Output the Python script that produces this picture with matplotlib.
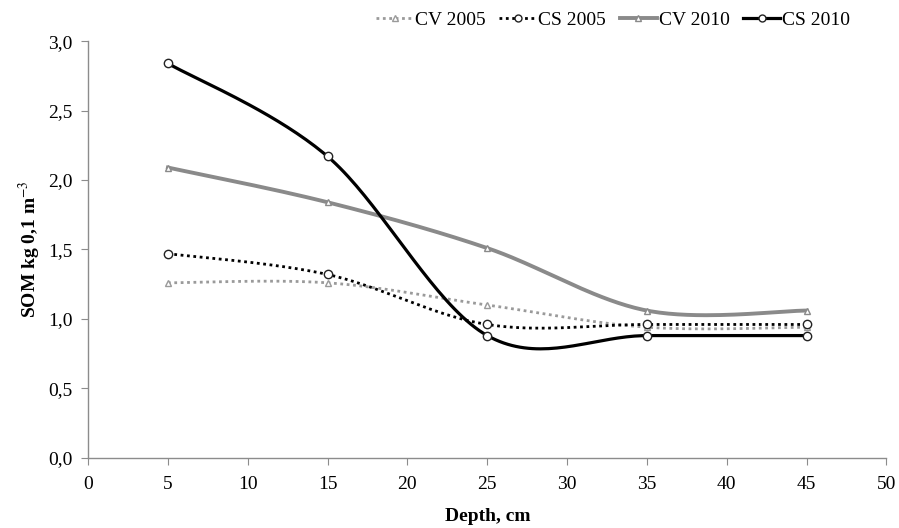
"""
SOM by depth - CV/CS 2005 and 2010, smoothed lines like the Excel original.
"""

import numpy as np
import matplotlib
matplotlib.use("Agg")
import matplotlib.pyplot as plt
from matplotlib.ticker import FuncFormatter, MultipleLocator

# ── Data ──────────────────────────────────────────────────────
depth   = [5, 15, 25, 35, 45]
cv_2005 = [1.26, 1.26, 1.10, 0.94, 0.94]
cs_2005 = [1.47, 1.32, 0.96, 0.96, 0.96]
cv_2010 = [2.09, 1.84, 1.51, 1.06, 1.06]
cs_2010 = [2.84, 2.17, 0.88, 0.88, 0.88]

plt.rcParams["font.family"] = ["Liberation Serif", "DejaVu Serif"]
plt.rcParams["mathtext.fontset"] = "stix"

FS = 14


def smooth_path(x, y, n=40):
    """Cardinal-spline curve through the points (Excel 'smoothed line' style)."""
    px = [x[0]] + list(x) + [x[-1]]
    py = [y[0]] + list(y) + [y[-1]]
    xs, ys = [], []
    t = np.linspace(0, 1, n)
    for i in range(1, len(px) - 2):
        p0 = np.array([px[i], py[i]])
        p3 = np.array([px[i + 1], py[i + 1]])
        p1 = p0 + (np.array([px[i + 1], py[i + 1]]) - np.array([px[i - 1], py[i - 1]])) / 6
        p2 = p3 - (np.array([px[i + 2], py[i + 2]]) - np.array([px[i], py[i]])) / 6
        b = ((1 - t) ** 3)[:, None] * p0 + (3 * (1 - t) ** 2 * t)[:, None] * p1 \
            + (3 * (1 - t) * t ** 2)[:, None] * p2 + (t ** 3)[:, None] * p3
        xs.extend(b[:, 0])
        ys.extend(b[:, 1])
    return xs, ys


fig = plt.figure(figsize=(8.99, 5.28), dpi=100)
ax = fig.add_axes([0.098, 0.133, 0.888, 0.789])

series = [
    ("CV 2005", cv_2005, dict(color="#9a9a9a", ls=(0, (1, 1.3)), lw=2.0, marker="^", ms=5)),
    ("CS 2005", cs_2005, dict(color="#000000", ls=(0, (1, 1.3)), lw=2.0, marker="o", ms=6)),
    ("CV 2010", cv_2010, dict(color="#8a8a8a", ls="-", lw=2.8, marker="^", ms=5)),
    ("CS 2010", cs_2010, dict(color="#000000", ls="-", lw=2.3, marker="o", ms=6)),
]

handles = []
for label, vals, st in series:
    sx, sy = smooth_path(depth, vals)
    ax.plot(sx, sy, color=st["color"], ls=st["ls"], lw=st["lw"], zorder=2)
    edge = st["color"] if st["marker"] == "^" else "#222222"
    ax.plot(depth, vals, ls="none", marker=st["marker"], ms=st["ms"],
            mfc="white", mec=edge, mew=1.0, zorder=3)
    h, = ax.plot([], [], color=st["color"], ls=st["ls"], lw=st["lw"],
                 marker=st["marker"], ms=st["ms"] - 1, mfc="white",
                 mec=edge, mew=1.0)
    handles.append(h)

ax.set_xlim(0, 50)
ax.set_ylim(0, 3.0)
ax.xaxis.set_major_locator(MultipleLocator(5))
ax.yaxis.set_major_locator(MultipleLocator(0.5))
ax.yaxis.set_major_formatter(FuncFormatter(lambda v, p: f"{v:.1f}".replace(".", ",")))

for side in ("top", "right"):
    ax.spines[side].set_visible(False)
for side in ("left", "bottom"):
    ax.spines[side].set_color("#8c8c8c")
    ax.spines[side].set_linewidth(1.0)
ax.tick_params(colors="#8c8c8c", labelcolor="black", labelsize=FS,
               length=5, direction="out")
ax.tick_params(axis="y", pad=6)
ax.tick_params(axis="x", pad=8)

ax.set_xlabel("Depth, cm", fontsize=FS, fontweight="bold", labelpad=11)
ax.set_ylabel("SOM kg 0,1 m$^{-3}$", fontsize=FS, fontweight="bold",
              labelpad=4)

fig.legend(handles, [s[0] for s in series], loc="center", ncol=4,
           bbox_to_anchor=(0.682, 0.962), frameon=False, fontsize=FS,
           handlelength=1.9, handletextpad=0.1, columnspacing=0.7)

plt.savefig("out.png", dpi=100)
plt.close()
